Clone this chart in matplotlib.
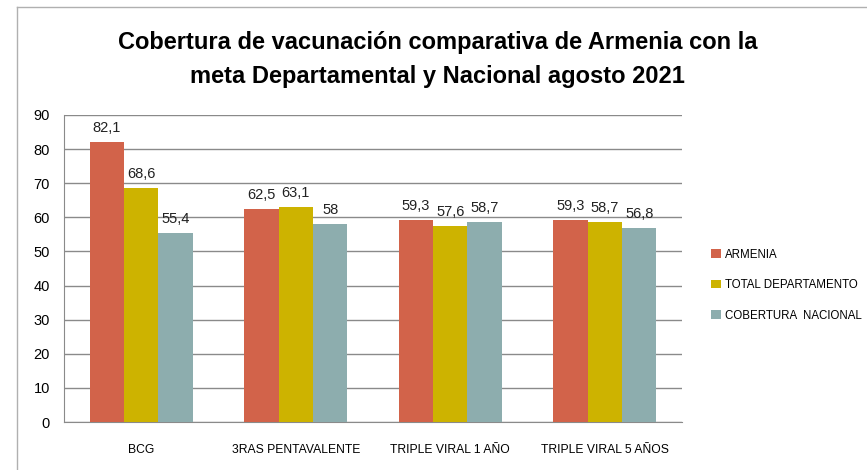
import numpy as np
import matplotlib.pyplot as plt
from matplotlib.lines import Line2D

# data
categorias = ['BCG', '3RAS PENTAVALENTE', 'TRIPLE VIRAL 1 AÑO', 'TRIPLE VIRAL 5 AÑOS']
armenia = [82.1, 62.5, 59.3, 59.3]
departamento = [68.6, 63.1, 57.6, 58.7]
nacional = [55.4, 58.0, 58.7, 56.8]
series_nombres = ['ARMENIA', 'TOTAL DEPARTAMENTO', 'COBERTURA  NACIONAL']
colores = ['#D2634A', '#CDB300', '#8DADAE']

plt.rcParams['font.family'] = ['Liberation Sans', 'DejaVu Sans']

fig = plt.figure(figsize=(8.67, 4.70), dpi=100)
ax = fig.add_axes([64/867, 48/470, (682-64)/867, (422-115)/470])

x = np.arange(len(categorias))
w = 0.223
for i, (vals, nombre, c) in enumerate(zip([armenia, departamento, nacional], series_nombres, colores)):
    bars = ax.bar(x + (i - 1) * w, vals, w, color=c, label=nombre, zorder=3)
    ax.bar_label(bars, labels=[f'{v:g}'.replace('.', ',') for v in vals],
                 padding=5, fontsize=10.5, color='#222222')

ax.set_xlim(-0.5, len(categorias) - 0.5)
ax.set_ylim(0, 90)
ax.set_yticks(range(0, 91, 10))
ax.set_xticks(x)
ax.set_xticklabels(categorias, fontsize=8.7)
ax.tick_params(axis='y', length=0, pad=10, labelsize=10.5)
ax.tick_params(axis='x', length=0, pad=16)
ax.grid(axis='y', color='#8a8a8a', linewidth=1, zorder=0)
for s in ['top', 'right']:
    ax.spines[s].set_visible(False)
ax.spines['left'].set_color('#8a8a8a')
ax.spines['bottom'].set_color('#8a8a8a')

ax.legend(loc='center left', bbox_to_anchor=(1.04, 0.446), frameon=False,
          fontsize=8.3, handlelength=0.8, handleheight=0.8, handletextpad=0.35,
          labelspacing=1.6, borderaxespad=0)

fig.text(0.505, 0.91, 'Cobertura de vacunación comparativa de Armenia con la',
         ha='center', va='center', fontsize=17, fontweight='bold')
fig.text(0.505, 0.838, 'meta Departamental y Nacional agosto 2021',
         ha='center', va='center', fontsize=17, fontweight='bold')

# chart frame
fig.add_artist(Line2D([17/867, 17/867], [0, 1 - 7/470], color='#b0b0b0', lw=1))
fig.add_artist(Line2D([17/867, 1], [1 - 7/470, 1 - 7/470], color='#b0b0b0', lw=1))

fig.savefig('out.png', dpi=100)
